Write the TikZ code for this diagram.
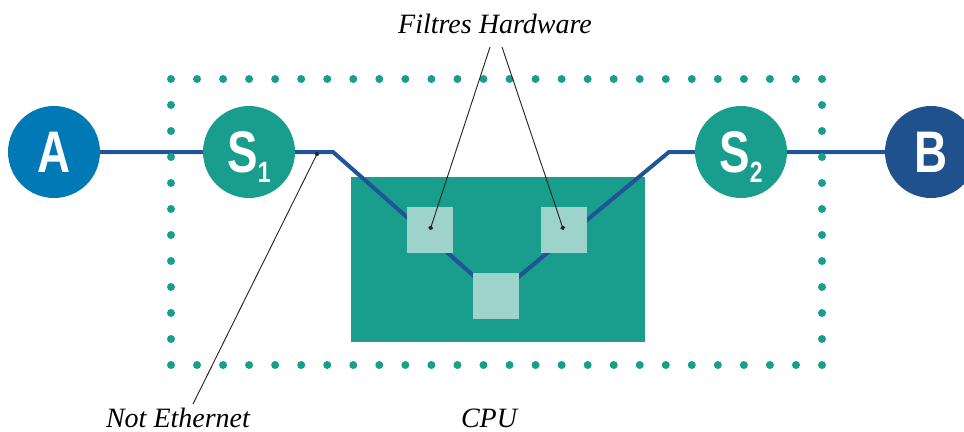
\documentclass[tikz,border=0pt]{standalone}
\usepackage{fontspec}
\setmainfont{Liberation Serif}
\newfontfamily\circfont{Liberation Sans}
\usetikzlibrary{arrows.meta}

\definecolor{blueA}{RGB}{0,121,182}
\definecolor{blueB}{RGB}{31,82,140}
\definecolor{tealS}{RGB}{25,158,141}
\definecolor{tealL}{RGB}{157,211,202}
\definecolor{wireblue}{RGB}{33,84,150}

\pgfdeclarelayer{back}
\pgfdeclarelayer{mid}
\pgfsetlayers{back,mid,main}

\tikzset{
  host/.style={circle, minimum size=69pt, inner sep=0pt, text=white,
    font=\circfont\bfseries\fontsize{44}{44}\selectfont},
  filter/.style={fill=tealL, minimum size=34.5pt, inner sep=0pt},
  wire/.style={wireblue, line width=3pt},
  leader/.style={black!85, line width=0.7pt, -{Circle[length=3.5pt]}},
  lbl/.style={font=\itshape\fontsize{21}{24}\selectfont, anchor=base}
}
\newcommand{\swname}[2]{\scalebox{0.78}[1]{#1\raisebox{-7.5pt}[0pt][0pt]{\fontsize{22}{22}\selectfont #2}}}

\begin{document}
\begin{tikzpicture}[x=0.75pt,y=-0.75pt]
\useasboundingbox (0,0) rectangle (964,432);
\clip (0,0) rectangle (964,432);

% CPU box
\begin{pgfonlayer}{back}
\node[fill=tealS, minimum width=220.5pt, minimum height=123.75pt, inner sep=0pt] (cpu) at (498,259.5) {};
\end{pgfonlayer}

% Filter squares
\node[filter] (f1) at (430,230) {};
\node[filter] (f2) at (563.5,230) {};
\node[filter] (f3) at (496,295.5) {};

% Hosts and switches
\node[host, fill=blueA] (A) at (54,152) {\scalebox{0.78}[1]{A}};
\node[host, fill=tealS] (S1) at (249,152) {\swname{S}{1}};
\node[host, fill=tealS] (S2) at (741,152) {\swname{S}{2}};
\node[host, fill=blueB] (B) at (931,152) {\scalebox{0.78}[1]{B}};

% Wire
\coordinate (bendL) at (333,152);
\coordinate (bendR) at (669,152);
\begin{pgfonlayer}{mid}
\draw[wire] (A.center) -- (S1.center) -- (bendL) -- (f3.center) -- (bendR) -- (S2.center) -- (B.center);
\end{pgfonlayer}

% Dotted frame
\foreach \i in {0,...,25} {
  \fill[tealS] (171+26.04*\i,79) circle (3pt);
  \fill[tealS] (171+26.04*\i,365) circle (3pt);
}
\foreach \j in {1,...,10} {
  \fill[tealS] (171,79+26*\j) circle (3pt);
  \fill[tealS] (822,79+26*\j) circle (3pt);
}

% Labels
\node[lbl] (fh) at (495,33) {Filtres Hardware};
\node[lbl] (eth) at (178,427) {Not Ethernet};
\node[lbl] (cpulbl) at (489,427) {CPU};

% Leaders
\coordinate (fhL) at (490,47);
\coordinate (fhR) at (502,47);
\coordinate (ethtop) at (193,404);
\coordinate (netpt) at (318,152);
\draw[leader] (fhL) -- (f1.center);
\draw[leader] (fhR) -- (f2.center);
\draw[leader] (ethtop) -- (netpt);

\end{tikzpicture}
\end{document}
